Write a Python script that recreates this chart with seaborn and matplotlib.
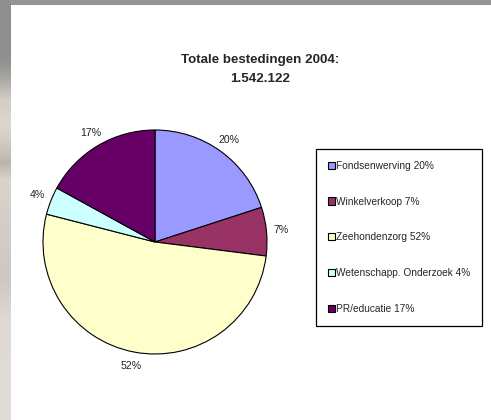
import numpy as np
import matplotlib
matplotlib.use("Agg")
import matplotlib.pyplot as plt
import matplotlib.patches as mpatches
import seaborn as sns

# ---- data ----
categories = ["Fondsenwerving", "Winkelverkoop", "Zeehondenzorg",
              "Wetenschapp. Onderzoek", "PR/educatie"]
shares = [20, 7, 52, 4, 17]
colors = ["#9999FF", "#993366", "#FFFFCC", "#CCFFFF", "#660066"]
title_text = "Totale bestedingen 2004:\n1.542.122"

sns.set_theme(style="white")
plt.rcParams["font.family"] = ["Liberation Sans", "DejaVu Sans"]

W, H = 491, 420
fig = plt.figure(figsize=(W / 100, H / 100), dpi=100)
fig.patch.set_facecolor("#959595")

# decorative background: left gradient strip + white page
bg = fig.add_axes([0, 0, 1, 1], zorder=-10)
bg.set_xlim(0, W)
bg.set_ylim(H, 0)
bg.axis("off")
stops_y = [0, 60, 78, 100, 125, 150, 163, 180, 220, 280, 320, 420]
stops_c = ["#909090", "#8f8f8f", "#a7a7a0", "#d2cec6", "#dcd8d0", "#c9c4bc",
           "#b9b4ac", "#d9d5cd", "#d3cfc8", "#cdc9c2", "#dedad3", "#e0ddd6"]
rgb = np.array([matplotlib.colors.to_rgb(c) for c in stops_c])
ys = np.arange(H) + 0.5
grad = np.stack([np.interp(ys, stops_y, rgb[:, k]) for k in range(3)], axis=1)
bg.imshow(grad[:, None, :], extent=[0, 11, H, 0], aspect="auto")
bg.add_patch(mpatches.Rectangle((11, 5), W - 11, H - 5, facecolor="white",
                                edgecolor="none"))

# pie axes
cx, cy, r = 155, 242, 112
lim = 1.3
side = 2 * lim * r
ax = fig.add_axes([(cx - side / 2) / W, (H - cy - side / 2) / H, side / W, side / H])
wedges, texts, autotexts = ax.pie(
    shares, colors=colors, startangle=90, counterclock=False,
    autopct=lambda p: f"{p:.0f}%", pctdistance=1.13,
    wedgeprops=dict(edgecolor="black", linewidth=0.8),
    textprops=dict(fontsize=7.6, color="#222222"))
ax.set_xlim(-lim, lim)
ax.set_ylim(-lim, lim)
ax.set_aspect("equal")
ax.axis("off")

fig.text(260 / W, 1 - 69.5 / H, title_text, ha="center", va="center",
         fontsize=9.6, fontweight="bold", linespacing=1.7)

leg_labels = [f"{c} {v}%" for c, v in zip(categories, shares)]
handles = [mpatches.Patch(facecolor=c, edgecolor="black", linewidth=0.8) for c in colors]
leg = fig.legend(handles, leg_labels, loc="upper left",
                 bbox_to_anchor=(316 / W, 1 - 149 / H), borderaxespad=0,
                 fontsize=7.3, frameon=True, fancybox=False, edgecolor="black",
                 framealpha=1, handlelength=0.72, handleheight=0.72,
                 handletextpad=0.15, labelspacing=2.55, borderpad=1.15)
leg.get_frame().set_linewidth(0.9)

fig.savefig("out.png", dpi=100, facecolor=fig.get_facecolor())
